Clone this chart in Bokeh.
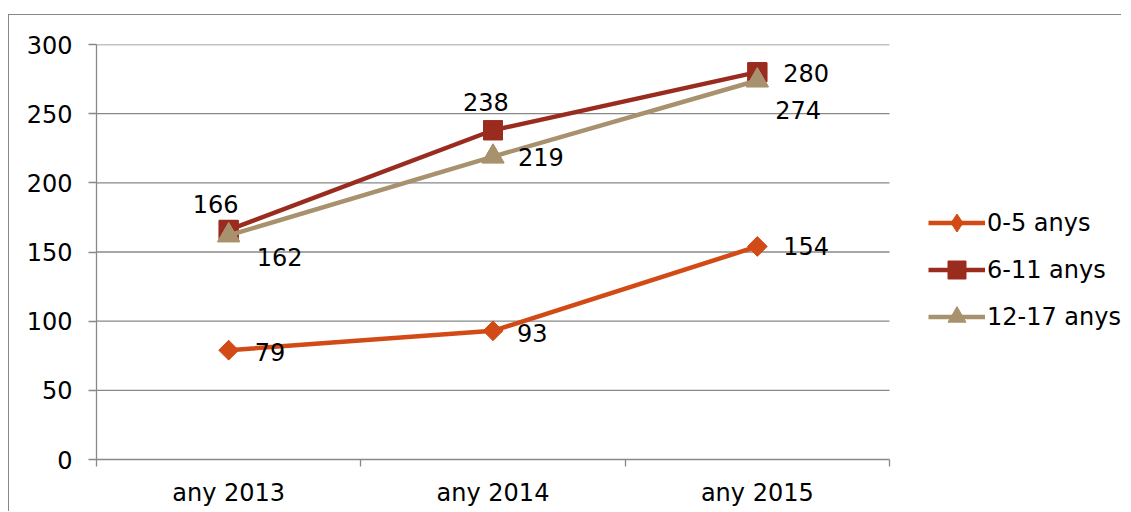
from bokeh.plotting import figure
from bokeh.models import ColumnDataSource, FixedTicker, Legend, LegendItem, Range1d
from bokeh.embed import file_html
from bokeh.resources import INLINE
from bokeh.core.properties import value

# ---- data ----
years = ["any 2013", "any 2014", "any 2015"]
series_names = ["0-5 anys", "6-11 anys", "12-17 anys"]
v_0_5 = [79, 93, 154]
v_6_11 = [166, 238, 280]
v_12_17 = [162, 219, 274]
y_ticks = [0, 50, 100, 150, 200, 250, 300]

# ---- styles ----
colors = ["#D24A16", "#9A2C1F", "#A8926D"]
legend_markers = ["diamond", "square", "triangle"]
legend_sizes = [18, 19, 22]
plot_markers = ["square", "square", "triangle"]
plot_angles = [0.7854, 0.0, 0.0]
plot_sizes = [14, 19, 22]
# label offsets (screen px) per series, per point
label_dx = [[26, 24, 26], [-36, -30, 26], [28, 25, 18]]
label_dy = [[2, 2, 0], [-26, -28, 1], [22, 0, 30]]

FONT = "DejaVu Sans"
FS = "24px"
GRAY = "#888888"

n = len(years)
xs = [i + 0.5 for i in range(n)]
CANVAS_W, LEFT, PLOT_W = 1113, 87, 793
x_end = n * (CANVAS_W - LEFT) / PLOT_W   # extra room on the right for the legend

p = figure(width=CANVAS_W, height=497, output_backend="svg", toolbar_location=None,
           x_range=Range1d(0, x_end), y_range=Range1d(0, 300),
           min_border_left=LEFT, min_border_right=0, min_border_top=29, min_border_bottom=53,
           margin=(14, 0, 0, 8),
           styles={"border-top": "1px solid #888888", "border-left": "1px solid #888888"})
p.outline_line_color = None
p.background_fill_color = "white"
p.border_fill_color = "white"

# axes
p.xaxis.ticker = FixedTicker(ticks=xs, minor_ticks=list(range(n + 1)))
p.xaxis.bounds = (0, n)
p.xaxis.major_label_overrides = {x: y for x, y in zip(xs, years)}
p.xaxis.major_tick_line_color = None
p.xaxis.major_tick_out = 0
p.xaxis.major_tick_in = 0
p.xaxis.minor_tick_line_color = GRAY
p.xaxis.minor_tick_out = 7
p.xaxis.minor_tick_in = 0
p.xaxis.minor_tick_line_width = 1.3
p.xaxis.axis_line_color = GRAY
p.xaxis.axis_line_width = 1.3
p.xaxis.major_label_standoff = 12
p.xaxis.major_label_text_font = FONT
p.xaxis.major_label_text_font_size = FS
p.xaxis.major_label_text_color = "black"

p.yaxis.ticker = FixedTicker(ticks=y_ticks, minor_ticks=[])
p.yaxis.major_tick_out = 8
p.yaxis.major_tick_in = 0
p.yaxis.major_tick_line_color = GRAY
p.yaxis.major_tick_line_width = 1.3
p.yaxis.axis_line_color = GRAY
p.yaxis.axis_line_width = 1.3
p.yaxis.major_label_standoff = 16
p.yaxis.major_label_text_font = FONT
p.yaxis.major_label_text_font_size = FS
p.yaxis.major_label_text_color = "black"

p.xgrid.grid_line_color = None
p.ygrid.grid_line_color = None
# horizontal grid lines limited to the category area
grid_src = ColumnDataSource(dict(y=y_ticks[1:], x0=[0] * (len(y_ticks) - 1), x1=[n] * (len(y_ticks) - 1)))
p.segment(x0="x0", x1="x1", y0="y", y1="y", source=grid_src, line_color=GRAY, line_width=1.3)

all_vals = [v_0_5, v_6_11, v_12_17]
items = []
for i, (name, vals, c) in enumerate(zip(series_names, all_vals, colors)):
    src = ColumnDataSource(dict(x=xs, y=vals))
    r1 = p.line("x", "y", source=src, line_color=c, line_width=4.5)
    # marker used for the legend swatch (sits hidden under the plotted marker)
    r_leg = p.scatter("x", "y", source=src, marker=legend_markers[i], size=legend_sizes[i],
                      fill_color=c, line_color=c)
    p.scatter("x", "y", source=src, marker=plot_markers[i], angle=plot_angles[i],
              size=plot_sizes[i], fill_color=c, line_color=c)
    items.append(LegendItem(label=name, renderers=[r1, r_leg]))

for vals, dxs, dys in zip(all_vals, label_dx, label_dy):
    src = ColumnDataSource(dict(x=xs, y=vals, t=[str(v) for v in vals], dx=dxs, dy=dys))
    p.text("x", "y", text="t", source=src, x_offset="dx", y_offset="dy",
           text_font=value(FONT), text_font_size=FS, text_color="black",
           text_align="left", text_baseline="middle")

legend = Legend(items=items, location=(832, 120), orientation="vertical")
legend.padding = 0
legend.margin = 0
legend.spacing = 2
legend.glyph_height = 45
legend.label_height = 45
legend.glyph_width = 57
legend.label_standoff = 2
legend.border_line_color = None
legend.background_fill_alpha = 0
legend.label_text_font = FONT
legend.label_text_font_size = FS
legend.label_text_color = "black"
p.add_layout(legend, "center")

open("out.html", "w").write(file_html(p, INLINE))
